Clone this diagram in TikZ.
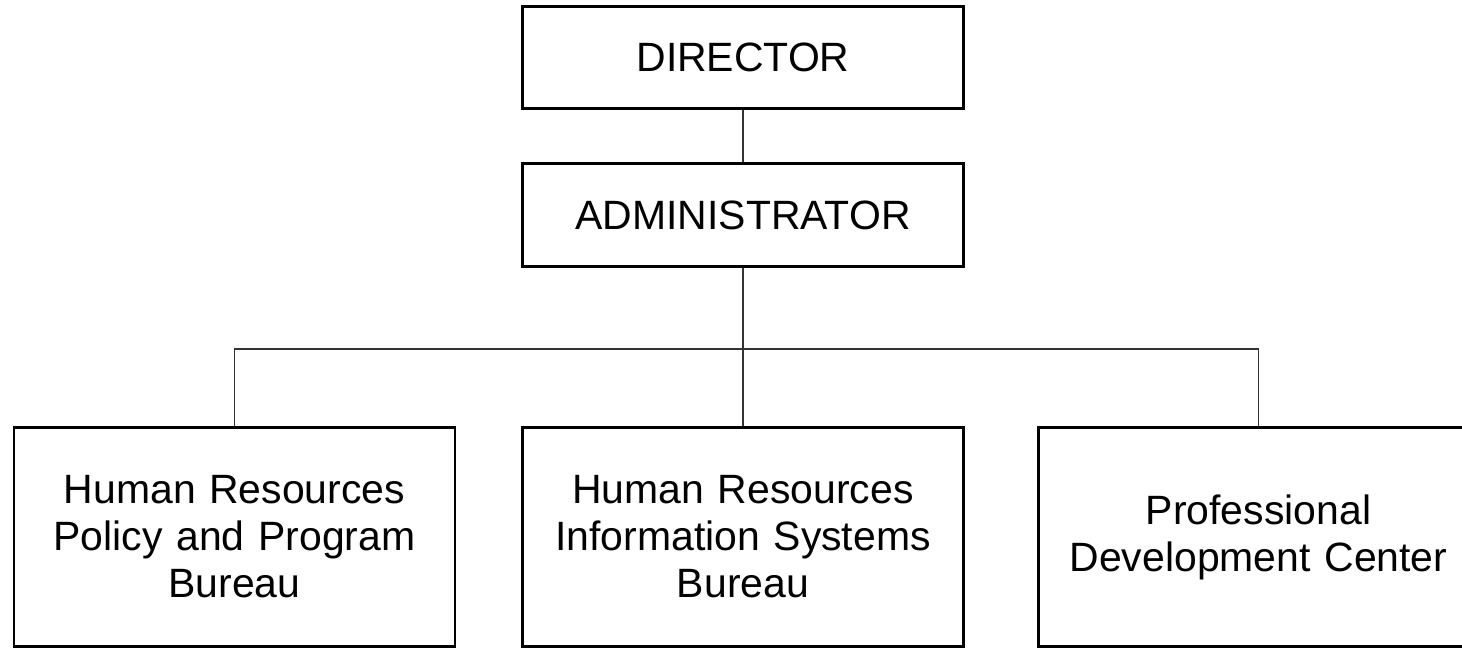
\documentclass[tikz,border=0pt]{standalone}
\usepackage{fontspec}
\setmainfont{Liberation Sans}
\usetikzlibrary{positioning}
\tikzset{
  unit/.style={draw, line width=1.7pt, minimum width=8.82cm, align=center, inner sep=0pt,
    font=\fontsize{23.3}{26.8}\selectfont},
  head/.style={unit, minimum height=2.05cm},
  bureau/.style={unit, minimum height=4.38cm, text width=8.6cm},
  link/.style={line width=0.6pt, black!80}
}
\begin{document}
\begin{tikzpicture}
	\useasboundingbox (0,0) rectangle (29.24,12.96);
	\clip (0,0) rectangle (29.24,12.96);
	% top of the chart
	\node[head] (director) at (14.86,11.81) {DIRECTOR};
	\node[head] (admin) at (14.86,8.66) {ADMINISTRATOR};
	% the three bureaus
	\node[bureau] (hrpp) at (4.69,2.22) {Human Resources\\Policy and Program\\Bureau};
	\node[bureau] (hris) at (14.86,2.22) {Human Resources\\Information Systems\\Bureau};
	\node[bureau] (pdc) at (25.17,2.22) {Professional\\Development Center};
	\coordinate (bus) at (14.86,5.98);
	% connectors
	\draw[link] (director) -- (admin);
	\draw[link] (admin) -- (hris);
	\draw[link] (hrpp.north) |- (bus) -| (pdc.north);
\end{tikzpicture}
\end{document}
